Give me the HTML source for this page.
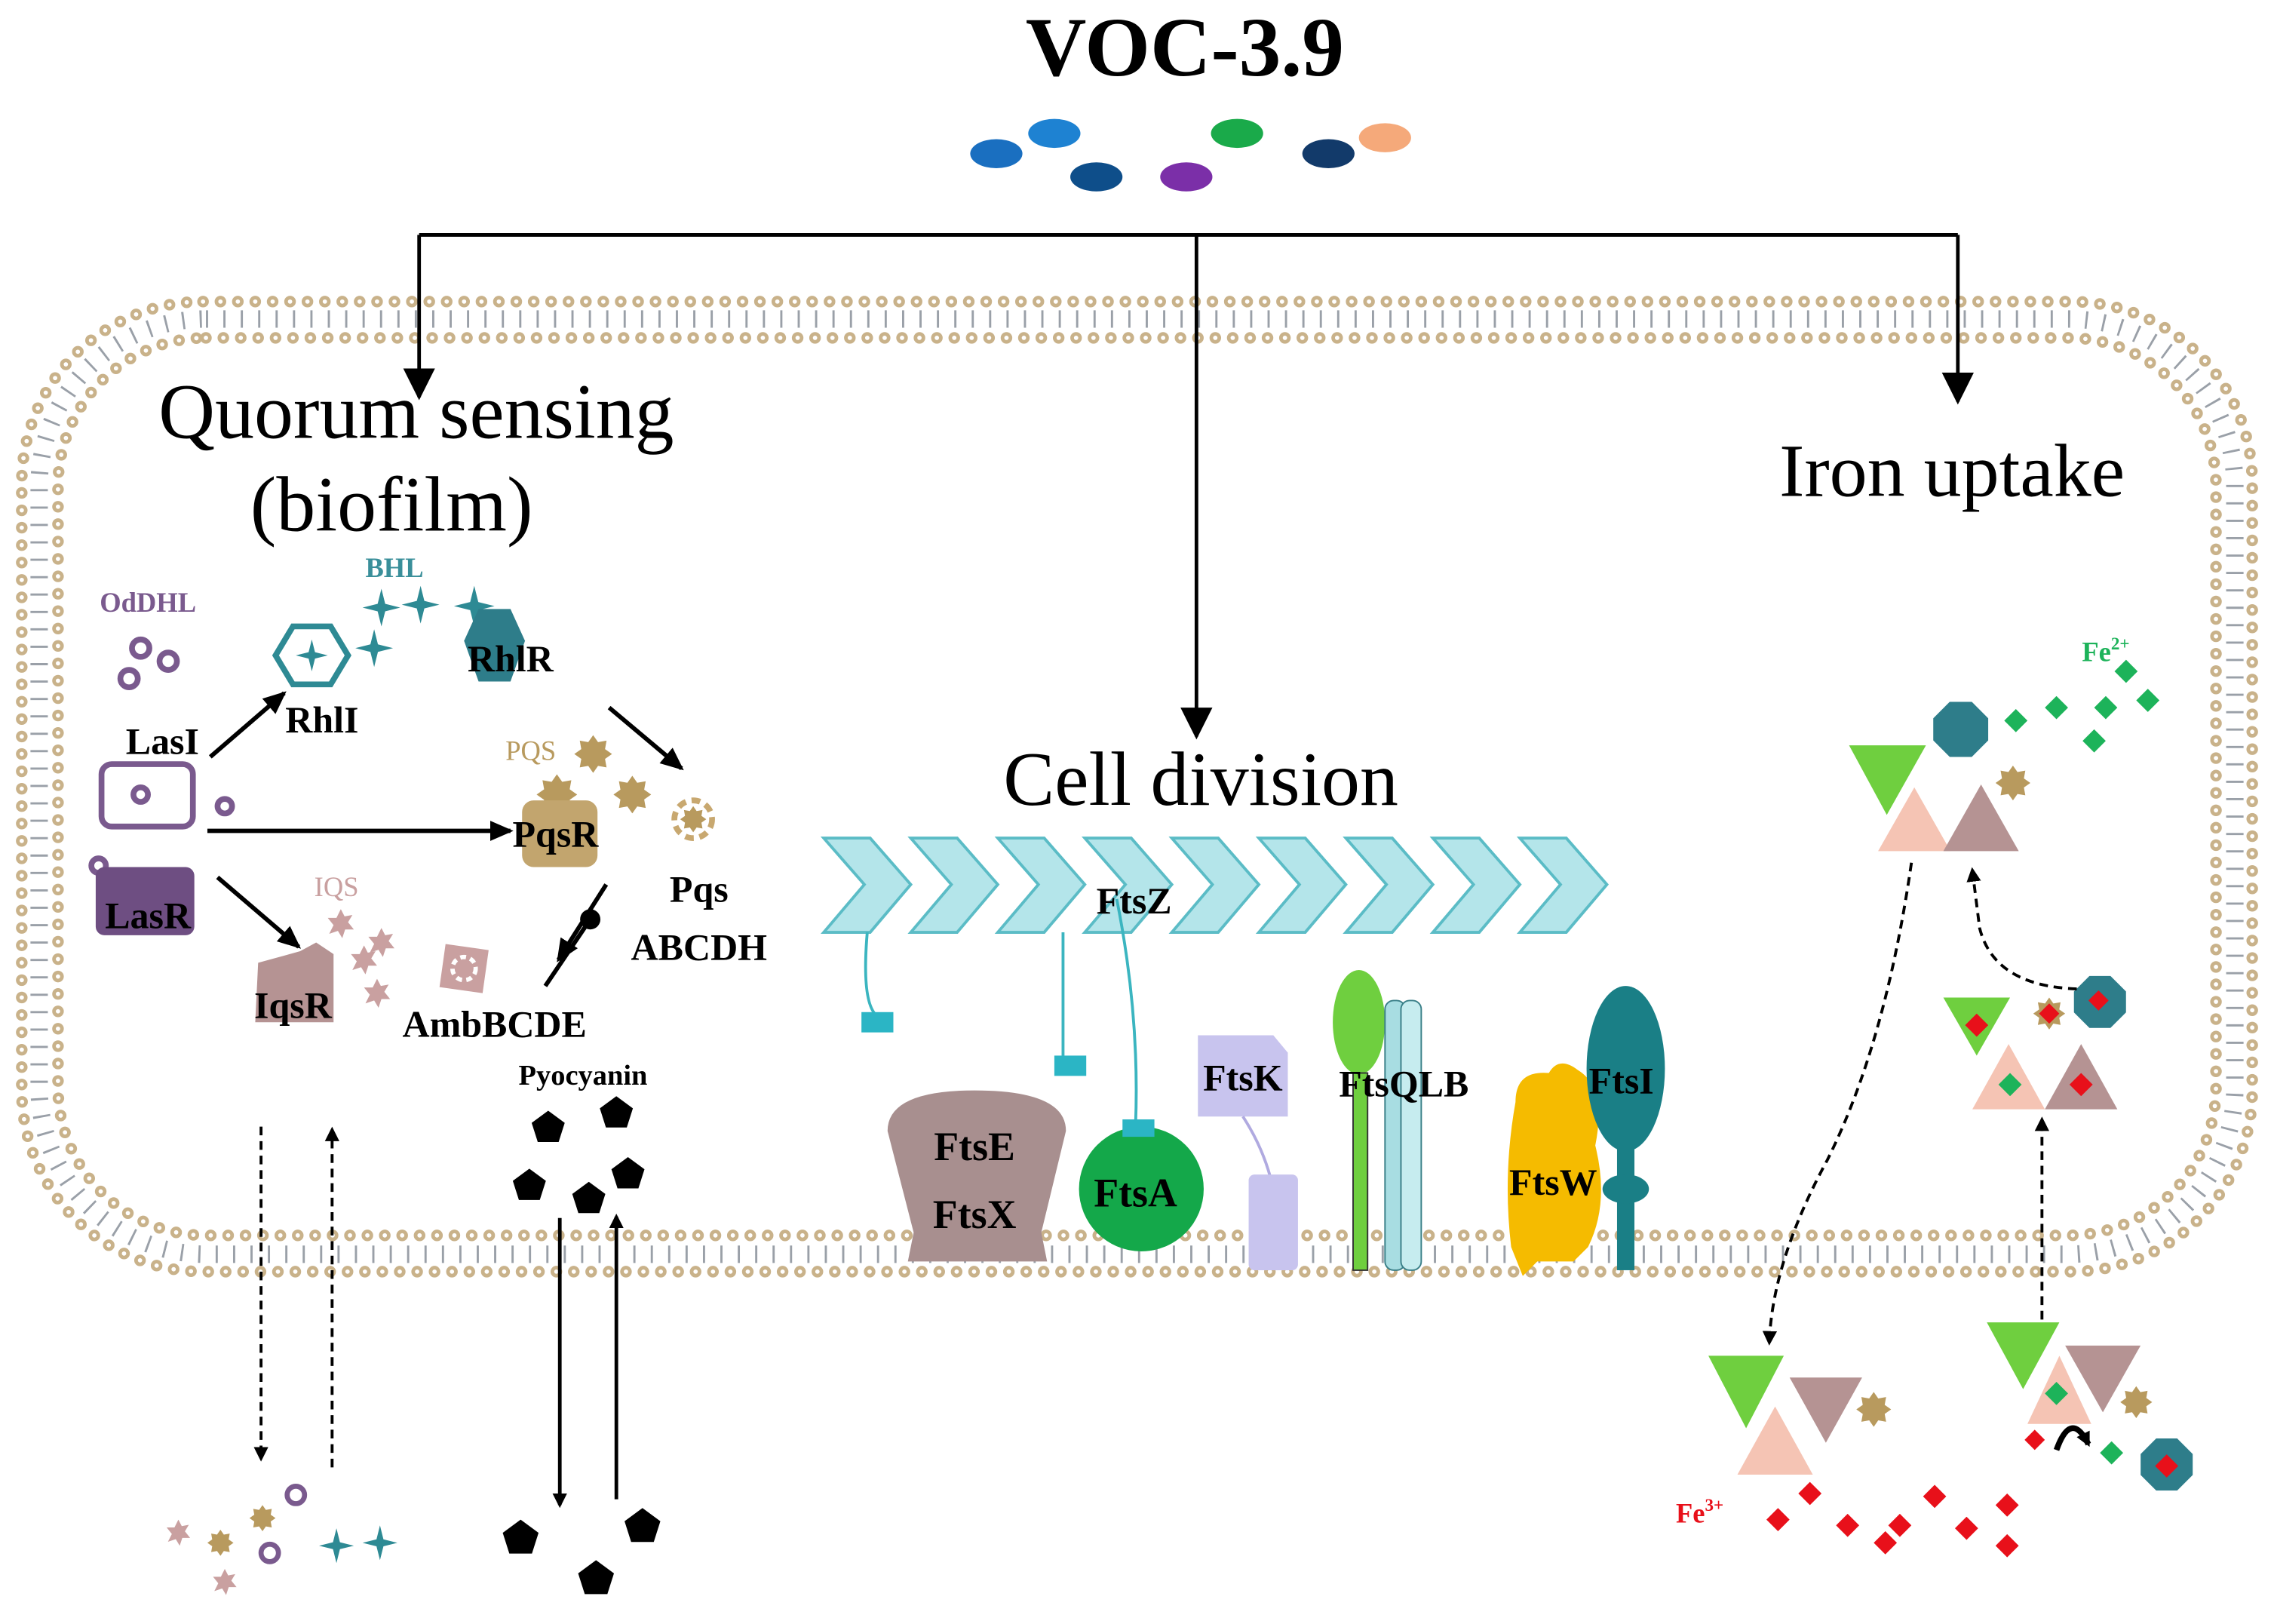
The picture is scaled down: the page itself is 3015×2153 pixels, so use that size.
<!DOCTYPE html>
<html><head><meta charset="utf-8"><style>
html,body{margin:0;padding:0;background:#fff}
svg{display:block}
text{font-family:"Liberation Serif",serif}
.b{font-weight:bold}
</style></head><body>
<svg width="3015" height="2153" viewBox="0 0 1568 1120" preserveAspectRatio="none" xmlns="http://www.w3.org/2000/svg">
<defs>
<marker id="ah" markerWidth="10" markerHeight="10" refX="8" refY="5" orient="auto" markerUnits="userSpaceOnUse"><path d="M0,0 L10,5 L0,10 Z" fill="#000"/></marker>
<marker id="ahb" markerWidth="22" markerHeight="22" refX="20" refY="11" orient="auto" markerUnits="userSpaceOnUse"><path d="M0,0 L22,11 L0,22 Z" fill="#000"/></marker>
<marker id="ahm" markerWidth="16" markerHeight="16" refX="14" refY="8" orient="auto" markerUnits="userSpaceOnUse"><path d="M0,1 L16,8 L0,15 Z" fill="#000"/></marker>
<symbol id="sp4" viewBox="-10 -10 20 20"><path d="M0,-10 L2,-2 L10,0 L2,2 L0,10 L-2,2 L-10,0 L-2,-2 Z" fill="#2e8a94"/></symbol>
<symbol id="st8" viewBox="-10 -10 20 20"><path d="M0,-10 L2.6,-6.3 L7.1,-7.1 L6.3,-2.6 L10,0 L6.3,2.6 L7.1,7.1 L2.6,6.3 L0,10 L-2.6,6.3 L-7.1,7.1 L-6.3,2.6 L-10,0 L-6.3,-2.6 L-7.1,-7.1 L-2.6,-6.3 Z" fill="#b89a5e"/></symbol>
<symbol id="iq" viewBox="-10 -10 20 20"><path d="M0,-10 L2.6,-5 L8,-6 L5,-1 L9,4 L3,4 L1,10 L-2,5 L-8,7 L-5,1 L-9,-4 L-3,-4 Z" fill="#c9a0a0"/></symbol>
<symbol id="pent" viewBox="-10 -10 20 20"><path d="M0,-10 L9.5,-3 L6,8 L-6,8 L-9.5,-3 Z" fill="#000"/></symbol>
<symbol id="dg" viewBox="-10 -10 20 20"><path d="M0,-10 L10,0 L0,10 L-10,0 Z" fill="#1db35a"/></symbol>
<symbol id="dr" viewBox="-10 -10 20 20"><path d="M0,-10 L10,0 L0,10 L-10,0 Z" fill="#e8101a"/></symbol>
<symbol id="oct" viewBox="-10 -10 20 20"><path d="M-4,-10 L4,-10 L10,-4 L10,4 L4,10 L-4,10 L-10,4 L-10,-4 Z" fill="#2e7d8a"/></symbol>
</defs>

<!-- membrane -->
<rect x="27" y="220" width="1514" height="645" rx="115" fill="none" stroke="#9aa0a8" stroke-width="12" stroke-dasharray="1.5 10.5"/>
<rect x="15" y="208" width="1538" height="669" rx="125" fill="none" stroke="#c9b28a" stroke-width="8" stroke-dasharray="0 12" stroke-linecap="round"/>
<rect x="15" y="208" width="1538" height="669" rx="125" fill="none" stroke="#fff" stroke-width="3" stroke-dasharray="0 12" stroke-linecap="round"/>
<rect x="40" y="233" width="1488" height="619" rx="102" fill="none" stroke="#c9b28a" stroke-width="8" stroke-dasharray="0 12" stroke-linecap="round"/>
<rect x="40" y="233" width="1488" height="619" rx="102" fill="none" stroke="#fff" stroke-width="3" stroke-dasharray="0 12" stroke-linecap="round"/>

<!-- title -->
<text x="817" y="52" font-size="58" class="b" text-anchor="middle">VOC-3.9</text>
<ellipse cx="687" cy="106" rx="18" ry="10" fill="#1a6fc0"/>
<ellipse cx="727" cy="92" rx="18" ry="10" fill="#1e82d2"/>
<ellipse cx="756" cy="122" rx="18" ry="10" fill="#0e4e8a"/>
<ellipse cx="818" cy="122" rx="18" ry="10" fill="#7b2fa8"/>
<ellipse cx="853" cy="92" rx="18" ry="10" fill="#1aaa4a"/>
<ellipse cx="916" cy="106" rx="18" ry="10" fill="#123a6a"/>
<ellipse cx="955" cy="95" rx="18" ry="10" fill="#f5a97a"/>

<!-- top connectors -->
<path d="M289,162 H1350" stroke="#000" stroke-width="2.5" fill="none"/>
<path d="M289,162 V274" stroke="#000" stroke-width="2.5" marker-end="url(#ahb)"/>
<path d="M825,162 V508" stroke="#000" stroke-width="2.5" marker-end="url(#ahb)"/>
<path d="M1350,162 V277" stroke="#000" stroke-width="2.5" marker-end="url(#ahb)"/>

<text x="287" y="302" font-size="54" text-anchor="middle">Quorum sensing</text>
<text x="270" y="366" font-size="54" text-anchor="middle">(biofilm)</text>
<text x="828" y="555" font-size="53" text-anchor="middle">Cell division</text>
<text x="1346" y="342" font-size="52" text-anchor="middle">Iron uptake</text>

<!-- Quorum sensing -->
<text x="102" y="422" font-size="19" class="b" fill="#7a5a8e" text-anchor="middle">OdDHL</text>
<g fill="none" stroke="#7a5a8e" stroke-width="4">
<circle cx="97" cy="447" r="6"/><circle cx="116" cy="456" r="6"/><circle cx="89" cy="468" r="6"/>
<rect x="70" y="527" width="63" height="43" rx="7"/><circle cx="97" cy="548" r="5"/><circle cx="155" cy="556" r="5"/>
<circle cx="68" cy="597" r="5"/>
</g>
<rect x="66" y="598" width="68" height="47" rx="6" fill="#6e4e82"/>
<text x="112" y="520" font-size="26" class="b" text-anchor="middle">LasI</text>
<text x="102" y="640" font-size="26" class="b" text-anchor="middle">LasR</text>
<text x="272" y="398" font-size="19" class="b" fill="#3a8f9a" text-anchor="middle">BHL</text>
<use href="#sp4" x="250" y="406" width="26" height="26"/>
<use href="#sp4" x="277" y="404" width="26" height="26"/>
<use href="#sp4" x="245" y="434" width="26" height="26"/>
<use href="#sp4" x="313" y="404" width="28" height="28"/>
<path d="M202,432 H228 L240,452 L228,472 H202 L190,452 Z" fill="none" stroke="#2e8a94" stroke-width="4"/>
<use href="#sp4" x="204" y="441" width="22" height="22"/>
<text x="222" y="505" font-size="26" class="b" text-anchor="middle">RhlI</text>
<path d="M330,420 H352 L362,442 L352,470 H330 L320,442 Z" fill="#2e7d8a"/>
<text x="352" y="463" font-size="26" class="b" text-anchor="middle">RhlR</text>
<text x="366" y="524" font-size="19" fill="#b89a5e" text-anchor="middle">PQS</text>
<use href="#st8" x="396" y="507" width="26" height="26"/>
<use href="#st8" x="423" y="535" width="26" height="26"/>
<circle cx="478" cy="565" r="13" fill="none" stroke="#c8a870" stroke-width="4" stroke-dasharray="6 4"/>
<use href="#st8" x="469" y="556" width="18" height="18"/>
<use href="#st8" x="370" y="534" width="28" height="28"/>
<rect x="360" y="552" width="52" height="46" rx="8" fill="#c2a56e"/>
<text x="383" y="584" font-size="26" class="b" text-anchor="middle">PqsR</text>
<text x="482" y="622" font-size="26" class="b" text-anchor="middle">Pqs</text>
<text x="482" y="662" font-size="26" class="b" text-anchor="middle">ABCDH</text>
<text x="232" y="618" font-size="19" fill="#c9a0a0" text-anchor="middle">IQS</text>
<use href="#iq" x="225" y="627" width="20" height="20"/>
<use href="#iq" x="253" y="640" width="20" height="20"/>
<use href="#iq" x="241" y="652" width="20" height="20"/>
<use href="#iq" x="250" y="675" width="20" height="20"/>
<path d="M178,664 L207,656 L218,650 L230,658 L230,705 L176,705 Z" fill="#b59393"/>
<text x="202" y="702" font-size="26" class="b" text-anchor="middle">IqsR</text>
<rect x="305" y="653" width="30" height="30" fill="#c9a0a0" transform="rotate(8 320 668)"/>
<circle cx="320" cy="668" r="8" fill="none" stroke="#fff" stroke-width="3" stroke-dasharray="4 3"/>
<text x="341" y="715" font-size="26" class="b" text-anchor="middle">AmbBCDE</text>
<path d="M145,522 L196,478" stroke="#000" stroke-width="3" marker-end="url(#ahm)"/>
<path d="M143,573 L352,573" stroke="#000" stroke-width="3" marker-end="url(#ahm)"/>
<path d="M150,605 L206,653" stroke="#000" stroke-width="3" marker-end="url(#ahm)"/>
<path d="M420,488 L470,530" stroke="#000" stroke-width="3" marker-end="url(#ahm)"/>
<path d="M418,610 L385,662" stroke="#000" stroke-width="3" marker-end="url(#ahm)"/>
<path d="M376,680 L405,637" stroke="#000" stroke-width="3"/><circle cx="407" cy="634" r="7"/>
<text x="402" y="748" font-size="20" class="b" text-anchor="middle">Pyocyanin</text>
<use href="#pent" x="366" y="766" width="24" height="24"/>
<use href="#pent" x="413" y="756" width="24" height="24"/>
<use href="#pent" x="353" y="806" width="24" height="24"/>
<use href="#pent" x="394" y="815" width="24" height="24"/>
<use href="#pent" x="421" y="798" width="24" height="24"/>
<use href="#pent" x="346" y="1048" width="26" height="26"/>
<use href="#pent" x="430" y="1040" width="26" height="26"/>
<use href="#pent" x="398" y="1076" width="26" height="26"/>
<path d="M180,777 V1006" stroke="#000" stroke-width="2" stroke-dasharray="6 4" marker-end="url(#ah)"/>
<path d="M229,1012 V779" stroke="#000" stroke-width="2" stroke-dasharray="6 4" marker-end="url(#ah)"/>
<path d="M386,840 V1038" stroke="#000" stroke-width="2.5" marker-end="url(#ah)"/>
<path d="M425,1034 V839" stroke="#000" stroke-width="2.5" marker-end="url(#ah)"/>
<use href="#iq" x="114" y="1048" width="18" height="18"/>
<use href="#st8" x="143" y="1055" width="18" height="18"/>
<use href="#st8" x="172" y="1038" width="18" height="18"/>
<use href="#iq" x="146" y="1082" width="18" height="18"/>
<g fill="none" stroke="#7a5a8e" stroke-width="3.5"><circle cx="204" cy="1031" r="6"/><circle cx="186" cy="1071" r="6"/></g>
<use href="#sp4" x="220" y="1054" width="24" height="24"/>
<use href="#sp4" x="250" y="1052" width="24" height="24"/>

<!-- Cell division -->
<g fill="#b4e5ea" stroke="#5bbcc6" stroke-width="2">
<path d="M568,578 H600 L628,610 L600,643 H568 L596,610 Z"/>
<path d="M628,578 H660 L688,610 L660,643 H628 L656,610 Z"/>
<path d="M688,578 H720 L748,610 L720,643 H688 L716,610 Z"/>
<path d="M748,578 H780 L808,610 L780,643 H748 L776,610 Z"/>
<path d="M808,578 H840 L868,610 L840,643 H808 L836,610 Z"/>
<path d="M868,578 H900 L928,610 L900,643 H868 L896,610 Z"/>
<path d="M928,578 H960 L988,610 L960,643 H928 L956,610 Z"/>
<path d="M988,578 H1020 L1048,610 L1020,643 H988 L1016,610 Z"/>
<path d="M1048,578 H1080 L1108,610 L1080,643 H1048 L1076,610 Z"/>
</g>
<text x="782" y="630" font-size="26" class="b" text-anchor="middle">FtsZ</text>
<g fill="none" stroke="#3bb5c0" stroke-width="2">
<path d="M598,643 Q594,690 604,700"/><path d="M733,643 V730"/><path d="M770,620 Q786,700 783,776"/>
</g>
<rect x="594" y="698" width="22" height="14" fill="#2bb5c5"/>
<rect x="727" y="728" width="22" height="14" fill="#2bb5c5"/>
<path d="M612,780 Q612,752 672,752 Q735,752 735,780 L718,850 L722,870 H626 L630,850 Z" fill="#a88f8f"/>
<text x="672" y="800" font-size="28" class="b" text-anchor="middle">FtsE</text>
<text x="672" y="847" font-size="28" class="b" text-anchor="middle">FtsX</text>
<circle cx="787" cy="820" r="43" fill="#14a84a"/>
<rect x="774" y="772" width="22" height="12" fill="#2bb5c5"/>
<text x="783" y="832" font-size="28" class="b" text-anchor="middle">FtsA</text>
<path d="M826,714 H878 L888,726 V770 H826 Z" fill="#c8c4ee"/>
<path d="M857,770 Q870,790 876,812" stroke="#b0aae0" stroke-width="2" fill="none"/>
<rect x="861" y="810" width="34" height="66" rx="4" fill="#c8c4ee"/>
<text x="857" y="752" font-size="26" class="b" text-anchor="middle">FtsK</text>
<ellipse cx="937" cy="705" rx="18" ry="36" fill="#6fcf3f"/>
<rect x="933" y="740" width="10" height="136" fill="#6fcf3f" stroke="#333" stroke-width="1"/>
<rect x="955" y="690" width="14" height="186" rx="6" fill="#a8dde2" stroke="#3a7f88" stroke-width="1"/>
<rect x="966" y="690" width="14" height="186" rx="6" fill="#c6ecef" stroke="#3a7f88" stroke-width="1"/>
<text x="968" y="756" font-size="26" class="b" text-anchor="middle">FtsQLB</text>
<path d="M1045,760 Q1045,738 1068,740 Q1075,728 1088,738 Q1108,750 1100,790 Q1110,830 1095,860 L1085,870 H1060 L1050,880 L1042,860 Q1036,810 1045,760 Z" fill="#f5bb00"/>
<text x="1071" y="824" font-size="26" class="b" text-anchor="middle">FtsW</text>
<ellipse cx="1121" cy="737" rx="27" ry="57" fill="#1a7f86"/>
<rect x="1115" y="790" width="12" height="86" fill="#1a7f86"/>
<ellipse cx="1121" cy="820" rx="16" ry="10" fill="#1a7f86"/>
<text x="1118" y="754" font-size="26" class="b" text-anchor="middle">FtsI</text>

<!-- Iron uptake -->
<text x="1452" y="456" font-size="19" class="b" fill="#1db35a" text-anchor="middle">Fe<tspan font-size="12" dy="-8">2+</tspan></text>
<use href="#dg" x="1458" y="455" width="16" height="16"/>
<use href="#dg" x="1382" y="489" width="16" height="16"/>
<use href="#dg" x="1410" y="480" width="16" height="16"/>
<use href="#dg" x="1444" y="480" width="16" height="16"/>
<use href="#dg" x="1473" y="475" width="16" height="16"/>
<use href="#dg" x="1436" y="503" width="16" height="16"/>
<path d="M1275,514 H1328 L1301,562 Z" fill="#6fcf3f"/>
<path d="M1295,587 L1320,543 L1345,587 Z" fill="#f5c4b4"/>
<path d="M1340,587 L1366,541 L1392,587 Z" fill="#b59393"/>
<use href="#oct" x="1333" y="484" width="38" height="38"/>
<use href="#st8" x="1376" y="528" width="24" height="24"/>
<path d="M1340,688 H1386 L1363,728 Z" fill="#6fcf3f"/>
<path d="M1360,765 L1385,720 L1410,765 Z" fill="#f5c4b4"/>
<path d="M1410,765 L1435,720 L1460,765 Z" fill="#b59393"/>
<use href="#oct" x="1430" y="673" width="36" height="36"/>
<use href="#st8" x="1402" y="688" width="22" height="22"/>
<use href="#dr" x="1355" y="699" width="16" height="16"/>
<use href="#dr" x="1406" y="692" width="14" height="14"/>
<use href="#dr" x="1440" y="683" width="14" height="14"/>
<use href="#dg" x="1378" y="740" width="16" height="16"/>
<use href="#dr" x="1427" y="740" width="16" height="16"/>
<path d="M1178,935 H1230 L1204,985 Z" fill="#6fcf3f"/>
<path d="M1198,1017 L1224,970 L1250,1017 Z" fill="#f5c4b4"/>
<path d="M1234,950 H1284 L1259,995 Z" fill="#b59393"/>
<use href="#st8" x="1280" y="960" width="24" height="24"/>
<path d="M1370,912 H1420 L1395,958 Z" fill="#6fcf3f"/>
<path d="M1398,982 L1420,935 L1442,982 Z" fill="#f5c4b4"/>
<path d="M1424,928 H1476 L1450,974 Z" fill="#b59393"/>
<use href="#st8" x="1462" y="956" width="22" height="22"/>
<use href="#dg" x="1410" y="953" width="16" height="16"/>
<use href="#dr" x="1396" y="986" width="14" height="14"/>
<use href="#dg" x="1448" y="994" width="16" height="16"/>
<use href="#oct" x="1476" y="992" width="36" height="36"/>
<use href="#dr" x="1486" y="1003" width="16" height="16"/>
<path d="M1418,1000 Q1428,972 1440,996" stroke="#000" stroke-width="4" fill="none" marker-end="url(#ah)"/>
<text x="1172" y="1050" font-size="19" class="b" fill="#e8101a" text-anchor="middle">Fe<tspan font-size="12" dy="-8">3+</tspan></text>
<use href="#dr" x="1218" y="1040" width="16" height="16"/>
<use href="#dr" x="1240" y="1022" width="16" height="16"/>
<use href="#dr" x="1266" y="1044" width="16" height="16"/>
<use href="#dr" x="1292" y="1056" width="16" height="16"/>
<use href="#dr" x="1302" y="1044" width="16" height="16"/>
<use href="#dr" x="1326" y="1024" width="16" height="16"/>
<use href="#dr" x="1348" y="1046" width="16" height="16"/>
<use href="#dr" x="1376" y="1030" width="16" height="16"/>
<use href="#dr" x="1376" y="1058" width="16" height="16"/>
<path d="M1318,595 Q1300,720 1260,800 Q1222,870 1220,926" stroke="#000" stroke-width="2" fill="none" stroke-dasharray="6 4" marker-end="url(#ah)"/>
<path d="M1408,910 V772" stroke="#000" stroke-width="2" stroke-dasharray="6 4" marker-end="url(#ah)"/>
<path d="M1432,682 Q1375,680 1365,640 L1360,600" stroke="#000" stroke-width="2" fill="none" stroke-dasharray="6 4" marker-end="url(#ah)"/>
</svg>
</body></html>
